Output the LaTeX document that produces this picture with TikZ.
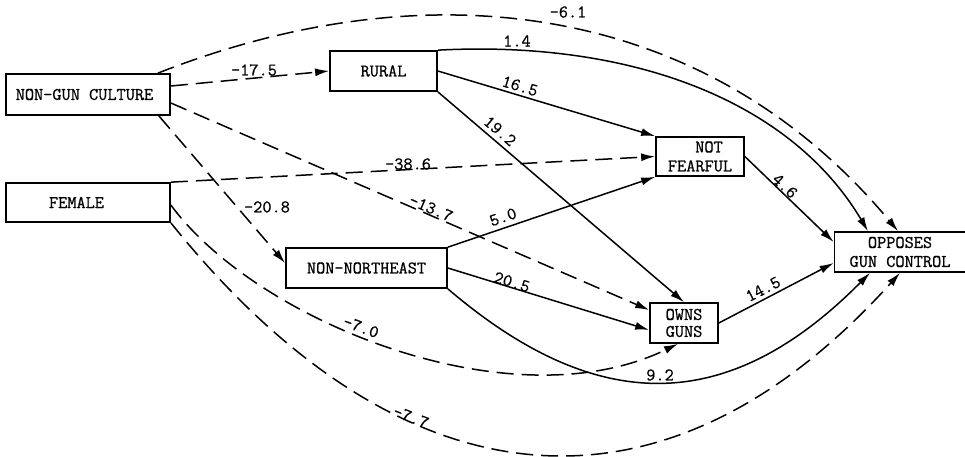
\documentclass[tikz,border=0pt]{standalone}
\usepackage{fontspec}
\newfontfamily\typew[FakeBold=0.8]{Latin Modern Mono}
\usetikzlibrary{arrows.meta,calc}
\begin{document}
\begin{tikzpicture}[x=1pt,y=-1pt,
  font=\fontsize{17.8}{19}\typew,
  box/.style={draw, line width=1.7pt, inner sep=0pt, align=center},
  conn/.style={line width=1.5pt, -{Latex[length=14pt,width=8pt]}},
  dsh/.style={conn, dash pattern=on 17pt off 8pt},
  lab/.style={inner sep=0pt}]
\useasboundingbox (0,0) rectangle (965,457);
% nodes
\node[box, minimum width=164pt, minimum height=41pt] (ngc) at (88,94.5) {NON-GUN CULTURE\hspace*{7pt}};
\node[box, minimum width=107pt, minimum height=40pt] (rural) at (383.5,71) {RURAL};
\node[box, minimum width=164pt, minimum height=39pt] (fem) at (88,202.5) {FEMALE\hspace*{23pt}};
\node[box, minimum width=88pt, minimum height=39pt] (nf) at (700,156.5) {\hspace*{18pt}NOT\\FEARFUL};
\node[box, minimum width=161pt, minimum height=40pt] (nne) at (366.5,268) {NON-NORTHEAST};
\node[box, minimum width=68pt, minimum height=40pt, font=\fontsize{17.8}{17}\typew] (owns) at (684,323) {OWNS\\GUNS};
\node[box, minimum width=131pt, minimum height=40pt] (opp) at (900,252) {OPPOSES\\GUN CONTROL};
% connectors from NON-GUN CULTURE
\draw[dsh] ($(ngc.east)+(0,-8.5)$) -- (rural.west);
\node[lab] (l175) at (254,70) {-17.5};
\draw[dsh] ($(ngc.north east)+(-13,0)$) .. controls (430,-34) and (707,2) .. ($(opp.north)+(-2,0)$);
\node[lab] (l61) at (568,12) {-6.1};
\draw[dsh] ($(ngc.south east)+(-12,0)$) -- ($(nne.north west)+(0,16)$);
\node[lab] (l208) at (267,207) {-20.8};
\draw[dsh] ($(ngc.east)+(0,8.5)$) -- ($(owns.west)+(0,-13)$);
\node[lab, rotate=-23.4] (l137) at (431,208) {-13.7};
% connectors from FEMALE
\draw[dsh] (fem.north east) -- (nf.west);
\node[lab] (l386) at (408,164) {-38.6};
\draw[dsh] ($(fem.east)+(0,2.5)$) .. controls (255,320) and (510,425) .. ($(owns.south)+(-6,0)$);
\node[lab, rotate=-20] (l70) at (361,327) {-7.0};
\draw[dsh] (fem.south east) .. controls (395,502) and (658,541) .. (opp.south);
\node[lab, rotate=-21] (l77) at (411,417) {-7.7};
% connectors from RURAL
\draw[conn] (rural.north east) .. controls (630,40) and (790,100) .. ($(opp.north)+(-32,0)$);
\node[lab] (l14) at (517,41) {1.4};
\draw[conn] (rural.east) -- (nf.north west);
\node[lab, rotate=-16.8] (l165) at (520,86) {16.5};
\draw[conn] (rural.south east) -- (owns.north);
\node[lab, rotate=-40.6] (l192) at (500,131) {19.2};
% connectors from NON-NORTHEAST
\draw[conn] (nne.north east) -- (nf.south west);
\node[lab, rotate=19] (l50) at (503,217) {5.0};
\draw[conn] (nne.east) -- ($(owns.west)+(0,7)$);
\node[lab, rotate=-17] (l205) at (512,282) {20.5};
\draw[conn] (nne.south east) .. controls (599,418) and (730,414) .. ($(opp.south)+(-30,0)$);
\node[lab] (l92) at (660,375) {9.2};
% connectors to OPPOSES
\draw[conn] (nf.east) -- ($(opp.west)+(0,-10)$);
\node[lab, rotate=-43] (l46) at (785,186) {4.6};
\draw[conn] (owns.east) -- ($(opp.west)+(0,11)$);
\node[lab, rotate=27] (l145) at (763,289) {14.5};
\end{tikzpicture}
\end{document}
